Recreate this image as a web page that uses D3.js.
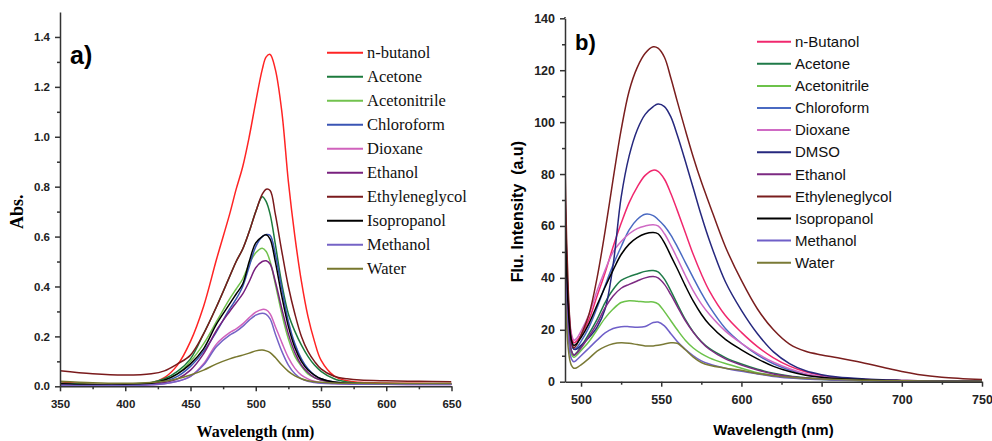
<!DOCTYPE html>
<html>
<head>
<meta charset="utf-8">
<script src="https://cdn.jsdelivr.net/npm/d3@7"></script>
<style>
  html, body { margin: 0; padding: 0; background: #fff; }
  svg { display: block; }
  .tick text { font-family: "Liberation Sans", Arial, sans-serif; font-weight: bold; fill: #222; }
  .domain, .tick line { stroke: #333; stroke-width: 1.5; }
</style>
</head>
<body>
<div id="chart"></div>
<script>
// ---- panel a) absorbance ----
const absWavelength = [350, 375, 400, 420, 430, 440, 450, 460, 470, 480, 485, 490, 495, 500, 505, 508, 511, 515, 520, 525, 530, 535, 540, 545, 550, 560, 570, 580, 600, 625, 650];
const absNames = ["n-butanol", "Acetone", "Acetonitrile", "Chloroform", "Dioxane", "Ethanol", "Ethyleneglycol", "Isopropanol", "Methanol", "Water"];
const absButanol = [0.018, 0.008, 0.005, 0.014, 0.035, 0.085, 0.18, 0.32, 0.51, 0.69, 0.79, 0.88, 1.00, 1.14, 1.27, 1.32, 1.33, 1.27, 1.10, 0.82, 0.60, 0.42, 0.28, 0.18, 0.105, 0.042, 0.022, 0.016, 0.013, 0.012, 0.011];
const absAcetone = [0.012, 0.008, 0.008, 0.015, 0.03, 0.06, 0.11, 0.21, 0.32, 0.44, 0.50, 0.55, 0.62, 0.70, 0.76, 0.74, 0.69, 0.57, 0.41, 0.29, 0.22, 0.165, 0.12, 0.085, 0.06, 0.03, 0.017, 0.013, 0.011, 0.01, 0.01];
const absAcetonitrile = [0.01, 0.006, 0.006, 0.012, 0.025, 0.05, 0.1, 0.17, 0.26, 0.35, 0.39, 0.43, 0.49, 0.535, 0.553, 0.54, 0.50, 0.41, 0.29, 0.19, 0.12, 0.08, 0.05, 0.035, 0.025, 0.015, 0.011, 0.01, 0.009, 0.009, 0.008];
const absChloroform = [0.008, 0.005, 0.005, 0.01, 0.02, 0.04, 0.08, 0.14, 0.22, 0.31, 0.35, 0.40, 0.48, 0.56, 0.60, 0.608, 0.605, 0.53, 0.39, 0.26, 0.17, 0.11, 0.07, 0.045, 0.03, 0.017, 0.012, 0.01, 0.009, 0.009, 0.008];
const absDioxane = [0.004, 0.003, 0.003, 0.006, 0.01, 0.02, 0.04, 0.09, 0.17, 0.215, 0.23, 0.25, 0.275, 0.297, 0.308, 0.306, 0.29, 0.24, 0.175, 0.115, 0.072, 0.045, 0.03, 0.02, 0.015, 0.011, 0.009, 0.008, 0.008, 0.007, 0.007];
const absEthanol = [0.006, 0.004, 0.004, 0.008, 0.015, 0.03, 0.065, 0.13, 0.225, 0.30, 0.335, 0.37, 0.42, 0.475, 0.50, 0.503, 0.49, 0.42, 0.31, 0.21, 0.135, 0.085, 0.055, 0.035, 0.025, 0.015, 0.011, 0.01, 0.009, 0.008, 0.008];
const absEthyleneglycol = [0.062, 0.05, 0.045, 0.05, 0.062, 0.09, 0.125, 0.21, 0.32, 0.44, 0.50, 0.55, 0.62, 0.70, 0.77, 0.79, 0.785, 0.69, 0.54, 0.40, 0.29, 0.20, 0.14, 0.10, 0.07, 0.04, 0.03, 0.025, 0.022, 0.02, 0.018];
const absIsopropanol = [0.01, 0.006, 0.006, 0.012, 0.025, 0.05, 0.09, 0.15, 0.25, 0.33, 0.37, 0.41, 0.50, 0.575, 0.60, 0.607, 0.59, 0.50, 0.36, 0.24, 0.155, 0.10, 0.065, 0.045, 0.03, 0.017, 0.012, 0.01, 0.01, 0.009, 0.009];
const absMethanol = [0.004, 0.003, 0.003, 0.006, 0.01, 0.02, 0.04, 0.085, 0.16, 0.205, 0.22, 0.24, 0.265, 0.285, 0.293, 0.288, 0.27, 0.21, 0.14, 0.085, 0.05, 0.03, 0.02, 0.015, 0.012, 0.01, 0.009, 0.008, 0.008, 0.007, 0.007];
const absWater = [0.02, 0.014, 0.012, 0.015, 0.02, 0.03, 0.045, 0.065, 0.09, 0.11, 0.118, 0.125, 0.133, 0.142, 0.145, 0.142, 0.135, 0.115, 0.085, 0.06, 0.042, 0.03, 0.022, 0.018, 0.016, 0.013, 0.012, 0.012, 0.011, 0.011, 0.011];
const absXTicks = [350, 400, 450, 500, 550, 600, 650];
const absYTicks = [0, 0.2, 0.4, 0.6, 0.8, 1.0, 1.2, 1.4];

// ---- panel b) fluorescence ----
const fluWavelength = [490, 491, 492, 493, 494, 495.5, 497, 500, 505, 510, 515, 520, 525, 530, 535, 540, 545, 548, 552, 556, 560, 565, 570, 575, 580, 590, 600, 610, 620, 630, 640, 650, 660, 675, 690, 700, 710, 725, 750];
const fluNames = ["n-Butanol", "Acetone", "Acetonitrile", "Chloroform", "Dioxane", "DMSO", "Ethanol", "Ethyleneglycol", "Isopropanol", "Methanol", "Water"];
const fluButanol = [72, 46, 31, 22.5, 17.5, 15, 15.5, 18, 24, 33, 42, 52, 61, 69, 75, 79.5, 81.5, 81, 78, 72.5, 66, 57.5, 49, 41.5, 35, 25.5, 19, 13.5, 9.2, 6, 3.8, 2.4, 1.5, 0.9, 0.6, 0.5, 0.4, 0.3, 0.2];
const fluAcetone = [60, 38, 24, 16, 12, 10.3, 11, 13.5, 18.5, 24, 30.5, 35.5, 39, 40.5, 41.5, 42.5, 42.8, 42.3, 39.5, 35, 30, 24, 19.2, 15.5, 12.8, 9.3, 6.8, 4.8, 3.3, 2.2, 1.5, 1, 0.8, 0.5, 0.35, 0.3, 0.25, 0.2, 0.15];
const fluAcetonitrile = [52, 33, 21, 13.8, 10.5, 9.4, 10, 12, 15.5, 20, 24.5, 28, 30.5, 31.2, 31, 30.7, 30.7, 30, 27, 23.5, 20, 16, 13, 10.8, 9.2, 7, 5.2, 3.5, 2.4, 1.6, 1.1, 0.8, 0.6, 0.4, 0.3, 0.25, 0.2, 0.15, 0.1];
const fluChloroform = [68, 44, 29, 20.5, 15, 12.5, 13, 15.5, 21, 28.5, 37, 45, 52, 58.5, 62.5, 64.5, 64, 62.5, 60, 56.5, 52, 46, 40, 34.2, 29, 20.5, 14.8, 10.3, 6.9, 4.5, 2.8, 1.8, 1.2, 0.8, 0.5, 0.4, 0.3, 0.25, 0.2];
const fluDioxane = [70, 46, 32, 23.5, 18.5, 16, 16.5, 19.5, 26, 35, 43, 50, 54, 57, 59, 60, 60.5, 60, 57, 52.5, 47.5, 41, 35, 30, 26, 19.5, 14.8, 10.8, 7.5, 5, 3.1, 2, 1.3, 0.8, 0.5, 0.4, 0.3, 0.25, 0.2];
const fluDMSO = [75, 48, 31, 20.5, 15, 12.5, 12.5, 14, 17, 21, 28, 45, 71, 87, 97, 103, 106, 107, 106, 102, 95, 85, 74.5, 64, 54.5, 38.5, 27.5, 18.5, 11.5, 7, 4.2, 2.7, 1.8, 1.1, 0.7, 0.5, 0.4, 0.3, 0.2];
const fluEthanol = [58, 37, 23.5, 15.8, 11.8, 10.2, 10.8, 13, 17.5, 22.5, 28.5, 33, 36, 37.5, 38.8, 40, 40.5, 40, 37.5, 33.5, 29, 23.5, 19, 15.3, 12.5, 8.8, 6.4, 4.5, 3, 2, 1.4, 1, 0.7, 0.5, 0.35, 0.3, 0.25, 0.2, 0.15];
const fluEthyleneglycol = [85, 55, 36, 23.5, 16, 13, 14, 18, 26, 40, 58, 78, 97, 112, 121, 126.5, 129, 128.5, 125, 117, 108, 97, 86.5, 77, 68.5, 52, 39, 28, 20, 14.5, 11.7, 10.3, 9.2, 7.4, 5.3, 3.9, 2.8, 1.7, 0.8];
const fluIsopropanol = [64, 42, 28.5, 20, 16, 14, 14.5, 17, 22.5, 29.5, 36.5, 43, 49, 53, 55.5, 57, 57.5, 57, 53.5, 48.5, 43.5, 37, 31, 26, 22, 16.3, 12.3, 8.8, 5.9, 3.9, 2.5, 1.7, 1.2, 0.8, 0.5, 0.4, 0.3, 0.25, 0.2];
const fluMethanol = [44, 28, 17.5, 11.3, 8.8, 7.7, 8.2, 10, 13, 16, 18.8, 20.5, 21.2, 21.2, 21, 21.3, 22.8, 23, 21.5, 18.5, 15.5, 12.5, 10, 8, 6.8, 5.2, 4, 3, 2, 1.4, 1, 0.8, 0.6, 0.4, 0.3, 0.25, 0.2, 0.15, 0.1];
const fluWater = [36, 22, 13, 8.3, 6.3, 5.2, 5.3, 6.5, 9, 11.8, 13.5, 14.6, 15, 14.8, 14.3, 13.8, 13.8, 14, 14.5, 15, 14.8, 12.3, 9.5, 7.4, 6.3, 5.2, 4.4, 3.2, 2.3, 1.7, 1.3, 1, 0.8, 0.6, 0.4, 0.35, 0.3, 0.2, 0.15];
const fluXTicks = [500, 550, 600, 650, 700, 750];
const fluYTicks = [0, 20, 40, 60, 80, 100, 120, 140];

const absValues = [absButanol, absAcetone, absAcetonitrile, absChloroform, absDioxane, absEthanol,
  absEthyleneglycol, absIsopropanol, absMethanol, absWater];
const fluValues = [fluButanol, fluAcetone, fluAcetonitrile, fluChloroform, fluDioxane, fluDMSO,
  fluEthanol, fluEthyleneglycol, fluIsopropanol, fluMethanol, fluWater];

// line colours, kept apart from the data
const absColors = ["#ff2424", "#1c7a3c", "#72c24e", "#3a55b4", "#d062bc", "#78207e", "#7a1a1c", "#000000", "#7563c6", "#77772e"];
const fluColors = ["#f0286e", "#1f7a48", "#6cc24a", "#4a6ac2", "#cf6ac4", "#26287e", "#7c2a82", "#7a1e1e", "#000000", "#6f5fc8", "#7a7a36"];

const width = 992, height = 441;
const svg = d3.select("#chart").append("svg")
  .attr("width", width)
  .attr("height", height);

function drawPanel(cfg) {
  const x = d3.scaleLinear().domain(cfg.xDomain).range(cfg.xRange);
  const y = d3.scaleLinear().domain(cfg.yDomain).range(cfg.yRange);
  const g = svg.append("g");

  const clipId = "clip-" + cfg.id;
  svg.append("clipPath").attr("id", clipId)
    .append("rect")
    .attr("x", cfg.xRange[0]).attr("y", cfg.yRange[1])
    .attr("width", cfg.xRange[1] - cfg.xRange[0])
    .attr("height", cfg.yRange[0] - cfg.yRange[1]);

  const line = d3.line()
    .x(d => x(d[0]))
    .y(d => y(d[1]))
    .curve(d3.curveCatmullRom.alpha(0.5));

  g.append("g").attr("clip-path", `url(#${clipId})`)
    .selectAll("path")
    .data(cfg.values)
    .enter().append("path")
    .attr("fill", "none")
    .attr("stroke", (d, i) => cfg.colors[i])
    .attr("stroke-width", 1.5)
    .attr("d", d => line(d.map((v, j) => [cfg.wavelength[j], v])));

  // minor ticks first, then labelled ones
  g.append("g")
    .attr("transform", `translate(0,${cfg.yRange[0]})`)
    .call(d3.axisBottom(x).tickValues(cfg.xMinor).tickSize(3).tickFormat(""))
    .call(a => a.select(".domain").remove());
  g.append("g")
    .attr("transform", `translate(${cfg.xRange[0]},0)`)
    .call(d3.axisLeft(y).tickValues(cfg.yMinor).tickSize(3).tickFormat(""))
    .call(a => a.select(".domain").remove());

  g.append("g")
    .attr("transform", `translate(0,${cfg.yRange[0]})`)
    .call(d3.axisBottom(x).tickValues(cfg.xTicks).tickSize(5).tickSizeOuter(0).tickPadding(cfg.xPad).tickFormat(d3.format("d")))
    .call(a => a.selectAll("text").style("font-size", cfg.tickFont));
  g.append("g")
    .attr("transform", `translate(${cfg.xRange[0]},0)`)
    .call(d3.axisLeft(y).tickValues(cfg.yTicks).tickSize(5).tickSizeOuter(0).tickPadding(5).tickFormat(cfg.yFormat))
    .call(a => a.selectAll("text").style("font-size", cfg.tickFont));

  // extend the left axis up to the top of the frame
  g.append("line")
    .attr("x1", cfg.xRange[0]).attr("x2", cfg.xRange[0])
    .attr("y1", cfg.yRange[1]).attr("y2", cfg.axisTop)
    .attr("stroke", "#333").attr("stroke-width", 1.5);

  // legend
  const leg = g.append("g").selectAll("g")
    .data(cfg.names)
    .enter().append("g")
    .attr("transform", (d, i) => `translate(${cfg.legend.x},${cfg.legend.y + i * cfg.legend.step})`);
  leg.append("line")
    .attr("x1", 0).attr("x2", cfg.legend.len)
    .attr("stroke", (d, i) => cfg.colors[i])
    .attr("stroke-width", 2);
  leg.append("text")
    .attr("x", cfg.legend.len + 4)
    .attr("dy", "0.35em")
    .style("font-family", cfg.legend.font)
    .style("font-size", cfg.legend.size)
    .style("fill", "#111")
    .text(d => d);

  return { x, y, g };
}

const panelA = drawPanel({
  id: "a",
  wavelength: absWavelength, values: absValues, names: absNames, colors: absColors,
  xDomain: [350, 650], xRange: [60, 451.5],
  yDomain: [0, 1.5], yRange: [386.3, 12],
  axisTop: 12,
  xTicks: absXTicks, xMinor: d3.range(375, 650, 50),
  yTicks: absYTicks, yMinor: d3.range(0.1, 1.45, 0.2),
  yFormat: d3.format(".1f"),
  tickFont: "11.5px", xPad: 9,
  legend: { x: 327, y: 52.7, step: 24, len: 36, font: "'Liberation Serif', 'Times New Roman', serif", size: "16.5px" }
});

const panelB = drawPanel({
  id: "b",
  wavelength: fluWavelength, values: fluValues, names: fluNames, colors: fluColors,
  xDomain: [490, 750], xRange: [565, 982],
  yDomain: [0, 140], yRange: [381.7, 18.3],
  axisTop: 17,
  xTicks: fluXTicks, xMinor: d3.range(525, 750, 50),
  yTicks: fluYTicks, yMinor: d3.range(10, 140, 20),
  yFormat: d3.format("d"),
  tickFont: "12.5px", xPad: 8,
  legend: { x: 757, y: 41.7, step: 22.1, len: 34, font: "'Liberation Sans', Arial, sans-serif", size: "15px" }
});

// titles and panel letters
svg.append("text")
  .attr("x", 255.5).attr("y", 437)
  .attr("text-anchor", "middle")
  .style("font-family", "'Liberation Serif', 'Times New Roman', serif")
  .style("font-weight", "bold").style("font-size", "16px")
  .text("Wavelength (nm)");

svg.append("text")
  .attr("transform", "translate(23,211.7) rotate(-90)")
  .attr("text-anchor", "middle")
  .style("font-family", "'Liberation Serif', 'Times New Roman', serif")
  .style("font-weight", "bold").style("font-size", "18px")
  .text("Abs.");

svg.append("text")
  .attr("x", 773.5).attr("y", 435)
  .attr("text-anchor", "middle")
  .style("font-family", "'Liberation Sans', Arial, sans-serif")
  .style("font-weight", "bold").style("font-size", "15px")
  .text("Wavelength (nm)");

svg.append("text")
  .attr("transform", "translate(523,211.7) rotate(-90)")
  .attr("text-anchor", "middle")
  .style("font-family", "'Liberation Sans', Arial, sans-serif")
  .style("font-weight", "bold").style("font-size", "16px")
  .style("white-space", "pre")
  .text("Flu. Intensity  (a.u)");

svg.append("text")
  .attr("x", 70).attr("y", 63.5)
  .style("font-family", "'Liberation Sans', Arial, sans-serif")
  .style("font-weight", "bold").style("font-size", "25px")
  .text("a)");

svg.append("text")
  .attr("x", 575).attr("y", 50)
  .style("font-family", "'Liberation Sans', Arial, sans-serif")
  .style("font-weight", "bold").style("font-size", "22px")
  .text("b)");
</script>
</body>
</html>
